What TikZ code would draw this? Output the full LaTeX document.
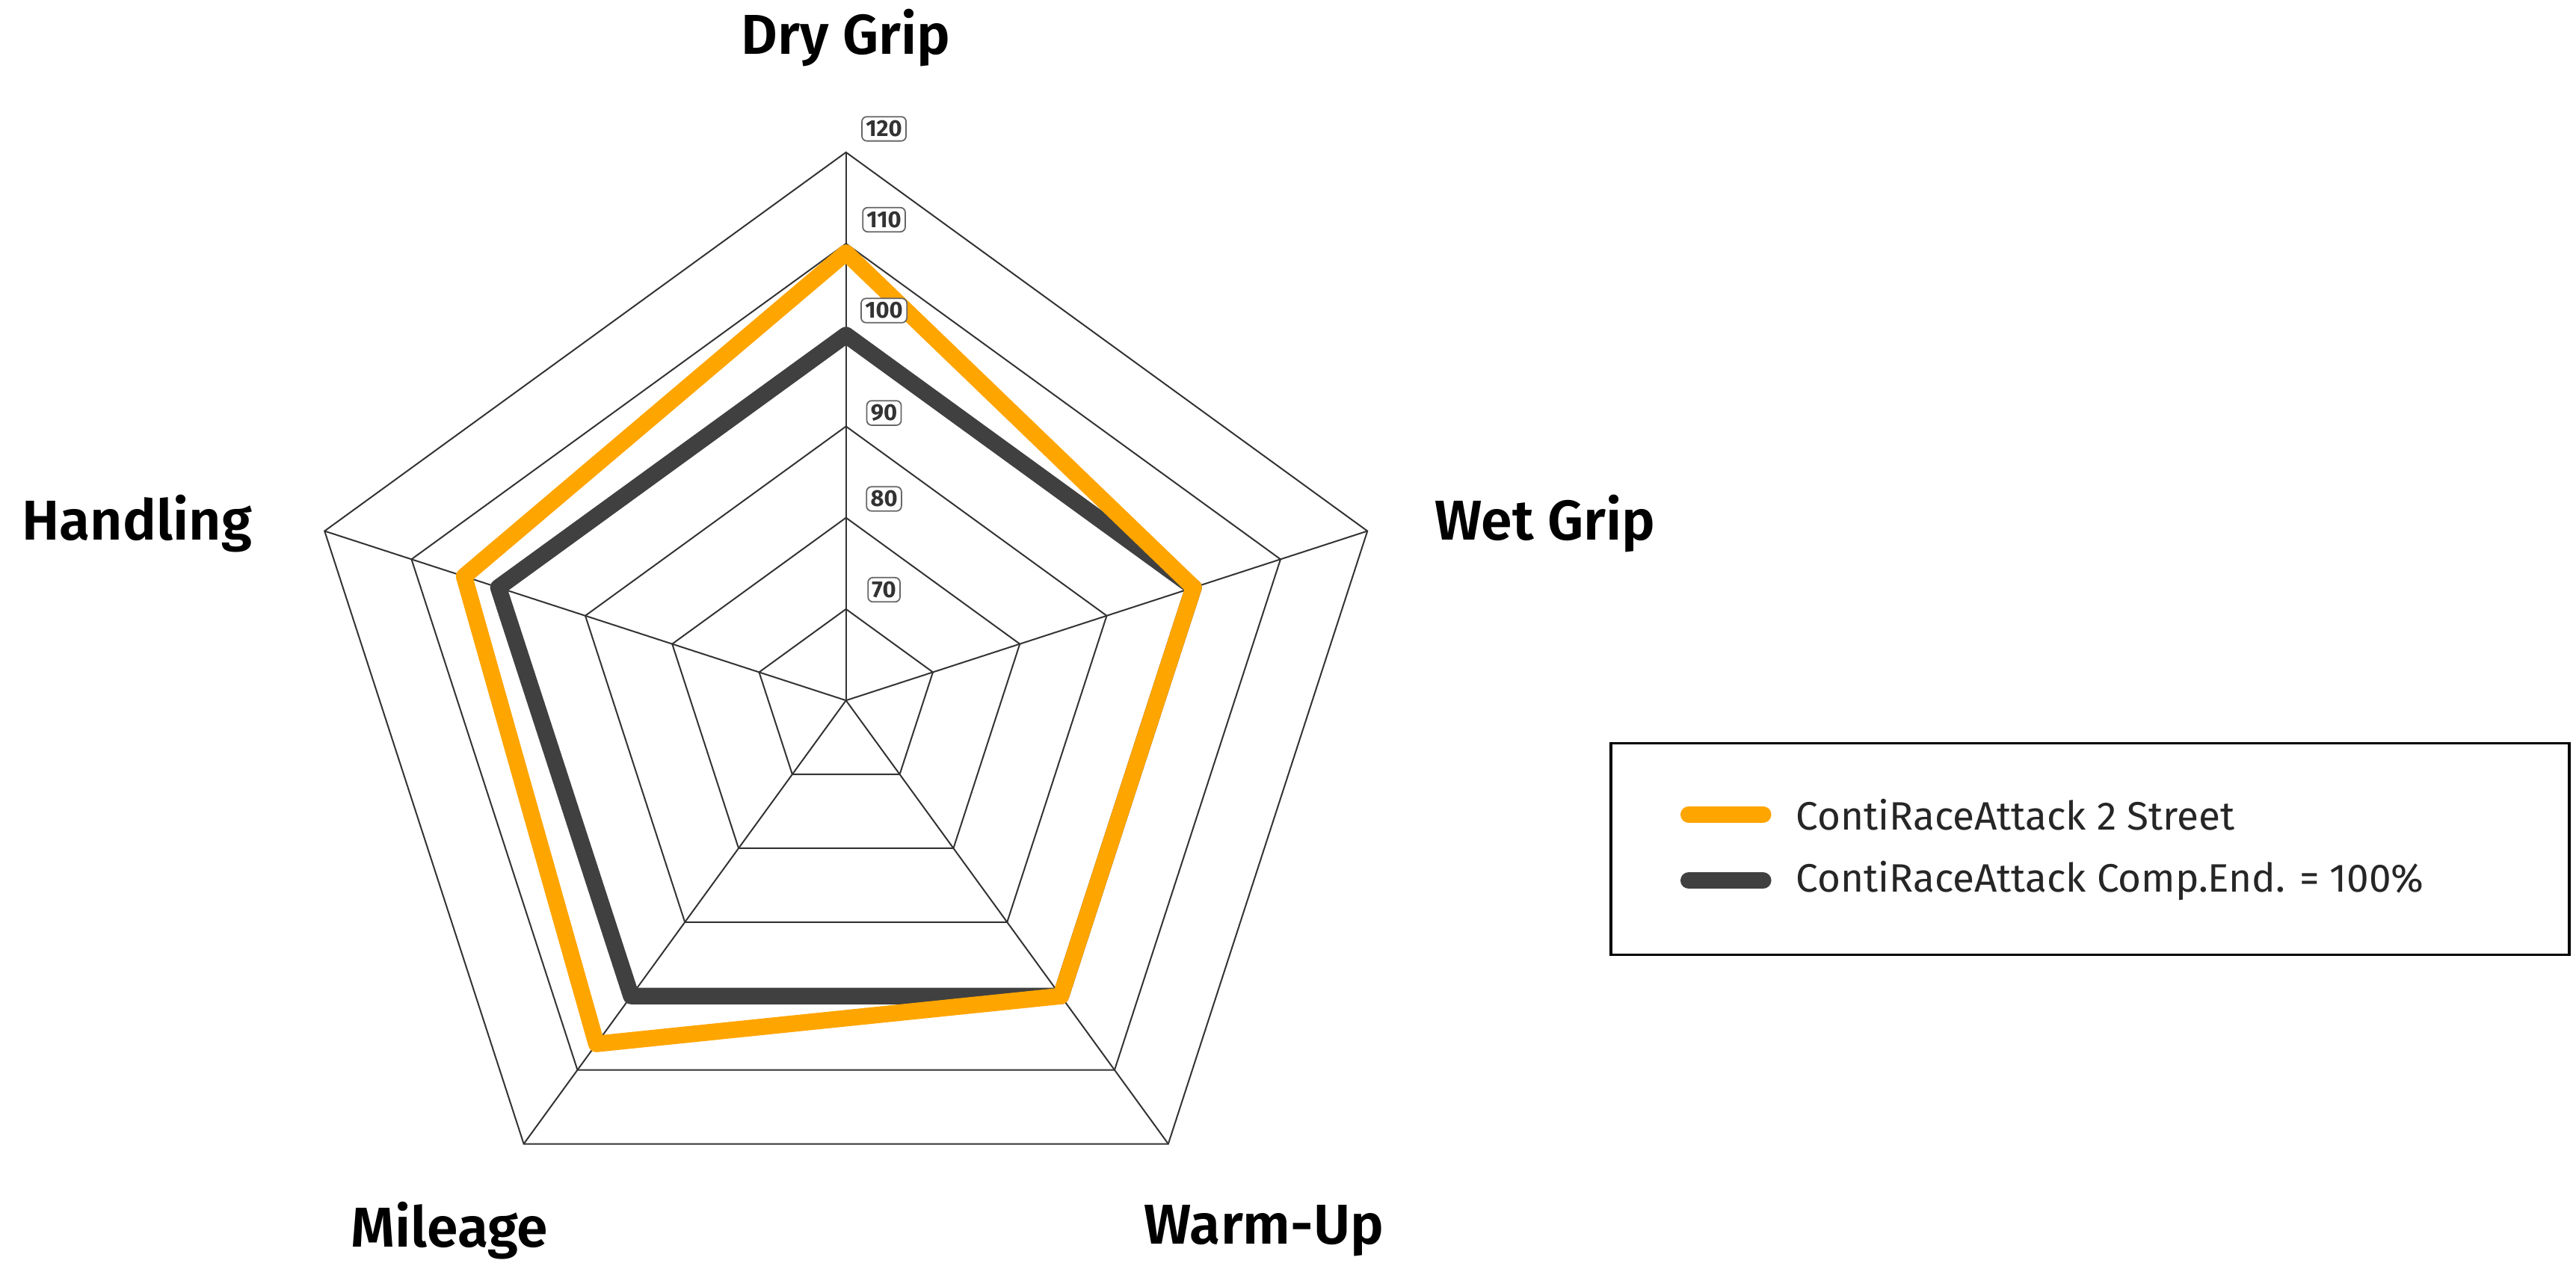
\documentclass[tikz,border=0pt]{standalone}
\usepackage{fontspec}
\usetikzlibrary{calc}
\setmainfont{Fira Sans}
\newfontfamily\lblfont{Fira Sans SemiBold}
\begin{document}
\begin{tikzpicture}[x=0.5pt,y=0.5pt,
  grid/.style={draw=black!80,line width=0.45pt},
  series/.style={line width=5pt,line join=round,line cap=round},
  axlabel/.style={font=\lblfont\fontsize{17}{20}\selectfont},
  tick/.style={draw=black!60,fill=white,rounded corners=1.5pt,inner sep=1.2pt,font=\fontsize{7}{8}\selectfont\bfseries,text=black!80,line width=0.4pt}]
\definecolor{orangeS}{HTML}{FFA500}
\definecolor{darkS}{HTML}{404040}
\useasboundingbox (0,0) rectangle (1559,775);
\coordinate (c) at (512,351);
\foreach \v in {70,80,...,120}{
  \pgfmathsetmacro\r{(\v-60)*5.53}
  \draw[grid] ($(c)+(90:\r)$) -- ($(c)+(18:\r)$) -- ($(c)+(-54:\r)$) -- ($(c)+(-126:\r)$) -- ($(c)+(162:\r)$) -- cycle;
}
\foreach \a in {90,18,-54,-126,162}{\draw[grid] (c) -- ++(\a:331.8);}
\draw[series,darkS] ($(c)+(90:221.2)$) -- ($(c)+(18:221.2)$) -- ($(c)+(-54:221.2)$) -- ($(c)+(-126:221.2)$) -- ($(c)+(162:221.2)$) -- cycle;
\draw[series,orangeS] ($(c)+(90:271)$) -- ($(c)+(18:221.2)$) -- ($(c)+(-54:221.2)$) -- ($(c)+(-126:257)$) -- ($(c)+(162:243)$) -- cycle;
\foreach \v/\y in {120/78,110/133,100/188,90/250,80/302,70/357}{
  \node[tick] (t\v) at (535,775-\y) {\v};
}
\node[axlabel] (dry) at (512,752) {Dry Grip};
\node[axlabel] (wet) at (935,458) {Wet Grip};
\node[axlabel] (hand) at (83,458) {Handling};
\node[axlabel] (mil) at (272,30) {Mileage};
\node[axlabel] (warm) at (765,30) {Warm-Up};
\draw[line width=0.8pt] (975,197) rectangle (1555,325);
\coordinate (l1a) at (1022,282); \coordinate (l1b) at (1067,282);
\coordinate (l2a) at (1022,242); \coordinate (l2b) at (1067,242);
\draw[series,orangeS] (l1a) -- (l1b);
\draw[series,darkS] (l2a) -- (l2b);
\node[anchor=west,font=\fontsize{12}{14}\selectfont,text=black!85] (lt1) at (1080,282) {ContiRaceAttack 2 Street};
\node[anchor=west,font=\fontsize{12}{14}\selectfont,text=black!85] (lt2) at (1080,242) {ContiRaceAttack Comp.End. = 100\%};
\end{tikzpicture}
\end{document}
